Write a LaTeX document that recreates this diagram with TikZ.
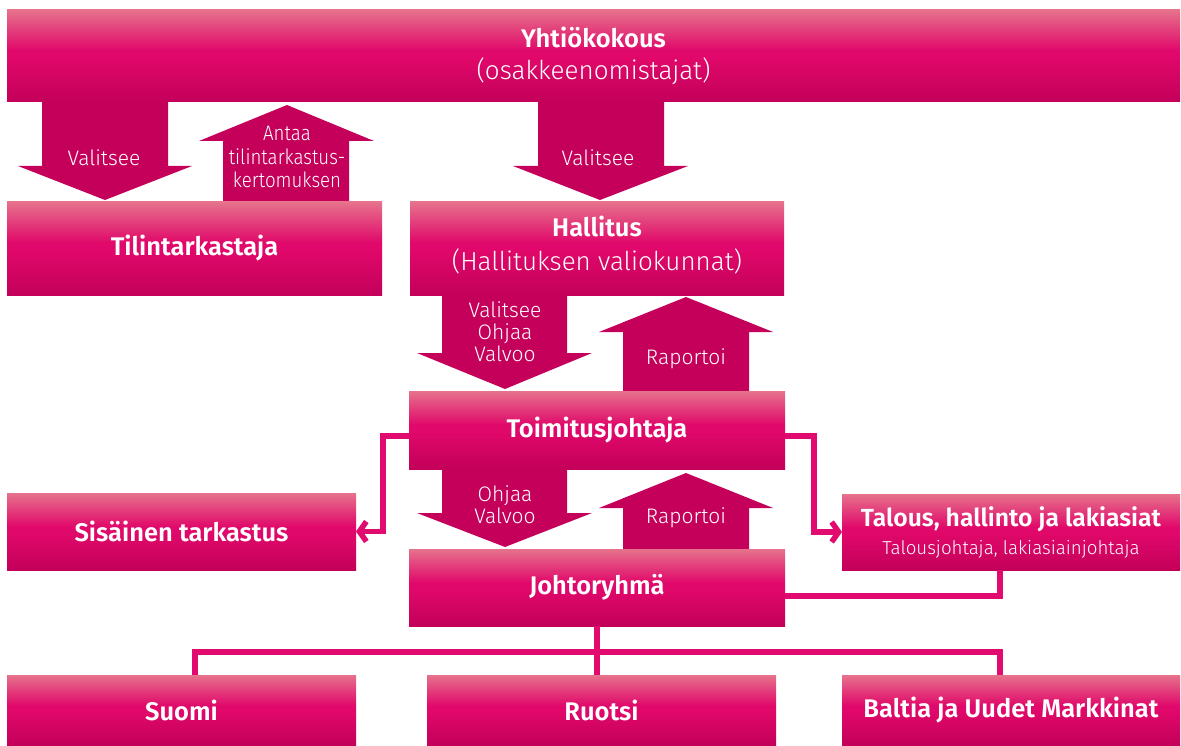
\documentclass[tikz,border=0pt]{standalone}
\usepackage{fontspec}
\setmainfont{Fira Sans}[UprightFont=* Light, BoldFont=* SemiBold]
\newfontfamily\narrowlight{Fira Sans}[UprightFont=* Light, FakeStretch=0.89]
\usetikzlibrary{arrows.meta}
\definecolor{mTop}{HTML}{E6728C}
\definecolor{mMid}{HTML}{E0086A}
\definecolor{mBot}{HTML}{C3005A}
\definecolor{mArr}{HTML}{C4005A}
\definecolor{mLine}{HTML}{E10A6E}
\pgfdeclareverticalshading{boxshade}{100bp}{color(0bp)=(mBot); color(25bp)=(mBot); color(49bp)=(mMid); color(53bp)=(mMid); color(75bp)=(mTop); color(100bp)=(mTop)}
\tikzset{
  box/.style={shade, shading=boxshade, inner sep=0pt, outer sep=0pt, text=white, align=center},
  ttl/.style={font=\bfseries\fontsize{25.5}{30}\selectfont},
  blockarrow/.style={fill=mArr, draw=none},
  lbl/.style={text=white, align=center, inner sep=0pt, font=\fontsize{21}{23.5}\selectfont},
  conn/.style={draw=mLine, line width=5.5pt},
  tip/.style={-{Straight Barb[length=7pt 0, width=20pt 0]}}
}
\begin{document}
\begin{tikzpicture}[x=1pt,y=-1pt]
\path[use as bounding box] (0,0) rectangle (1181,746);

% block arrows
\fill[blockarrow] (42,102) -- (168,102) -- (168,166) -- (192,166) -- (105,200) -- (18,166) -- (42,166) -- cycle;
\fill[blockarrow] (223,203) -- (349,203) -- (349,141) -- (374,141) -- (287,105) -- (199,141) -- (223,141) -- cycle;
\fill[blockarrow] (538,102) -- (664,102) -- (664,166) -- (688,166) -- (600,200) -- (513,166) -- (538,166) -- cycle;
\fill[blockarrow] (442,295) -- (567,295) -- (567,353) -- (592,353) -- (505,389) -- (417,353) -- (442,353) -- cycle;
\fill[blockarrow] (623,392) -- (749,392) -- (749,332) -- (773,332) -- (686,297) -- (599,332) -- (623,332) -- cycle;
\fill[blockarrow] (442,468) -- (567,468) -- (567,513) -- (592,513) -- (505,547) -- (417,513) -- (442,513) -- cycle;
\fill[blockarrow] (623,550) -- (749,550) -- (749,508) -- (773,508) -- (686,473) -- (599,508) -- (623,508) -- cycle;

% boxes
\node[box, font=\fontsize{26}{32}\selectfont, minimum width=1173pt, minimum height=92pt] (yk) at (593.5,56)
  {{\bfseries\fontsize{25.5}{32}\selectfont Yhtiökokous}\\(osakkeenomistajat)};
\node[box, ttl, minimum width=375pt, minimum height=93pt] (til) at (194.5,248.5) {Tilintarkastaja};
\node[box, font=\fontsize{26}{34}\selectfont, minimum width=374pt, minimum height=93pt] (hal) at (597,248.5)
  {{\bfseries\fontsize{25.5}{34}\selectfont Hallitus}\\(Hallituksen valiokunnat)\\[-23pt]\mbox{}};
\node[box, ttl, minimum width=376pt, minimum height=78pt] (tj) at (597,430) {Toimitusjohtaja};
\node[box, ttl, minimum width=349pt, minimum height=77pt] (sis) at (181.5,531.5) {Sisäinen tarkastus};
\node[box, font=\fontsize{18.7}{28}\selectfont, minimum width=338pt, minimum height=76pt] (tal) at (1011,532)
  {{\bfseries\fontsize{24.7}{28}\selectfont Talous, hallinto ja lakiasiat}\\Talousjohtaja, lakiasiainjohtaja};
\node[box, ttl, minimum width=376pt, minimum height=77pt] (jr) at (597,587.5) {Johtoryhmä};
\node[box, ttl, minimum width=349pt, minimum height=70pt] (fi) at (181.5,710) {Suomi};
\node[box, ttl, minimum width=349pt, minimum height=70pt] (se) at (601.5,710) {Ruotsi};
\node[box, ttl, minimum width=338pt, minimum height=70pt] (bal) at (1011,710) {Baltia ja Uudet Markkinat};

% arrow labels
\node[lbl] (l1) at (104,158) {Valitsee};
\node[lbl, font=\narrowlight\fontsize{21}{23.5}\selectfont] (l2) at (287,157) {Antaa\\tilintarkastus-\\kertomuksen};
\node[lbl] (l3) at (598,158) {Valitsee};
\node[lbl, font=\fontsize{21}{22}\selectfont] (l4) at (505,332) {Valitsee\\Ohjaa\\Valvoo};
\node[lbl] (l5) at (686,359) {Raportoi};
\node[lbl, font=\fontsize{21}{22}\selectfont] (l6) at (505,505) {Ohjaa\\Valvoo};
\node[lbl] (l7) at (686,518) {Raportoi};

% connectors
\draw[conn, tip] ([yshift=-6pt]tj.west) -- ++(-26,0) |- (sis.east);
\draw[conn, tip] ([yshift=-6pt]tj.east) -- ++(29,0) |- (tal.west);
\draw[conn] ([yshift=-8.5pt]jr.east) -| ([xshift=-11pt]tal.south);
\draw[conn] (jr.south) -- ++(0,26) coordinate (bus);
\draw[conn] ([xshift=13.5pt]fi.north) |- (bus) -| ([xshift=-11pt]bal.north);
\draw[conn] (bus) -- (bus |- se.north);
\end{tikzpicture}
\end{document}
